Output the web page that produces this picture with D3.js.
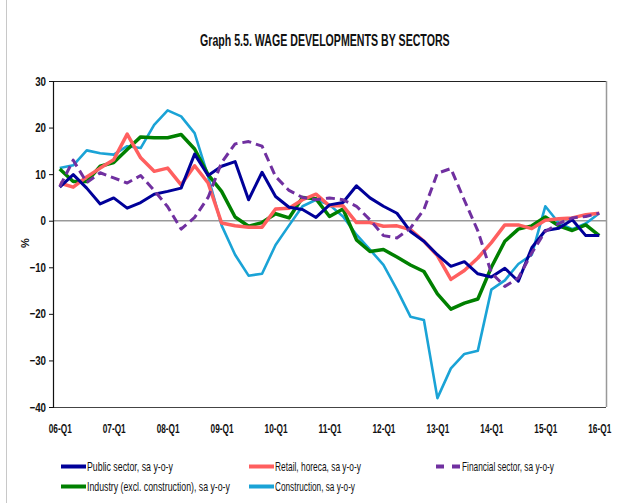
<!DOCTYPE html>
<html>
<head>
<meta charset="utf-8">
<script src="https://cdn.jsdelivr.net/npm/d3@7/dist/d3.min.js"></script>
<style>
  html, body { margin: 0; padding: 0; background: #fff; }
  svg { display: block; }
  text { font-family: "Liberation Sans", Arial, sans-serif; }
</style>
</head>
<body>
<svg id="chart" width="624" height="503"></svg>
<script>
const quarters = [
  "06-Q1","06-Q2","06-Q3","06-Q4","07-Q1","07-Q2","07-Q3","07-Q4",
  "08-Q1","08-Q2","08-Q3","08-Q4","09-Q1","09-Q2","09-Q3","09-Q4",
  "10-Q1","10-Q2","10-Q3","10-Q4","11-Q1","11-Q2","11-Q3","11-Q4",
  "12-Q1","12-Q2","12-Q3","12-Q4","13-Q1","13-Q2","13-Q3","13-Q4",
  "14-Q1","14-Q2","14-Q3","14-Q4","15-Q1","15-Q2","15-Q3","15-Q4","16-Q1"
];
const yTicks = [30, 20, 10, 0, -10, -20, -30, -40];

const publicSector = [7.2, 9.9, 7.0, 3.6, 4.9, 2.7, 3.9, 5.7, 6.3, 7.0, 14.3, 9.7, 11.7, 12.7, 4.5, 10.4, 5.2, 2.9, 2.4, 0.7, 3.4, 3.9, 7.5, 4.9, 3.1, 1.6, -2.3, -4.4, -7.3, -9.8, -8.8, -11.4, -12.1, -10.2, -13.0, -5.8, -2.1, -1.6, 0.2, -3.2, -3.2];
const retail = [8.1, 7.2, 9.4, 11.3, 13.1, 18.6, 13.5, 10.6, 11.3, 7.7, 11.8, 8.1, -0.5, -1.1, -1.4, -1.4, 2.5, 2.7, 4.5, 5.7, 3.2, 3.2, -0.4, -0.4, -1.2, -1.1, -1.9, -4.4, -7.5, -12.6, -10.7, -8.0, -4.7, -0.9, -0.9, -1.7, 0.1, 0.4, 0.6, 1.3, 1.6];
const financial = [7.3, 13.0, 8.2, 10.3, 9.2, 8.1, 9.7, 6.5, 3.0, -1.8, 0.7, 5.0, 12.5, 16.5, 17.0, 16.0, 9.5, 6.5, 5.0, 4.5, 4.9, 4.5, 3.1, 0.2, -3.2, -3.7, -1.6, 2.4, 10.2, 11.2, 4.4, -2.2, -11.2, -14.1, -12.3, -6.9, -2.3, -0.6, 0.6, 0.9, 1.6];
const industry = [11.1, 8.4, 8.4, 11.7, 12.5, 15.3, 18.0, 17.8, 17.8, 18.5, 15.4, 9.9, 6.3, 0.8, -1.2, -0.4, 1.5, 0.6, 5.0, 4.7, 0.9, 2.5, -4.1, -6.6, -6.2, -7.8, -9.5, -10.9, -15.7, -19.0, -17.7, -16.8, -10.0, -4.4, -1.8, -1.1, 0.8, -1.1, -2.1, -0.9, -3.2];
const construction = [11.3, 11.9, 15.1, 14.5, 14.2, 16.0, 15.6, 20.6, 23.7, 22.4, 18.8, 9.5, -1.0, -7.3, -11.8, -11.4, -5.2, -1.0, 3.1, 4.5, 3.4, 0.9, -3.0, -6.2, -9.5, -14.8, -20.6, -21.3, -38.1, -31.7, -28.6, -27.9, -14.8, -12.8, -9.3, -7.3, 3.1, -0.5, -1.8, -0.6, 1.6];

const seriesNames = ["Public sector, sa y-o-y", "Retail, horeca, sa y-o-y", "Financial sector, sa y-o-y", "Industry (excl. construction), sa y-o-y", "Construction, sa y-o-y"];

const series = [
  { name: seriesNames[0], values: publicSector, color: "#000099", width: 3, dash: null },
  { name: seriesNames[1], values: retail, color: "#FF5F5F", width: 3.5, dash: null },
  { name: seriesNames[2], values: financial, color: "#7030A0", width: 3, dash: "9,5" },
  { name: seriesNames[3], values: industry, color: "#008000", width: 3.5, dash: null },
  { name: seriesNames[4], values: construction, color: "#1AA3D6", width: 2.6, dash: null }
];
const drawOrder = [4, 3, 1, 0, 2];

const svg = d3.select("#chart");
const pLeft = 53, pRight = 606, pTop = 81, pBottom = 407;

const x = d3.scalePoint().domain(quarters).range([pLeft, pRight]).padding(0.5);
const y = d3.scaleLinear().domain([-40, 30]).range([pBottom, pTop]);

// place a text at (tx,ty) and squeeze it horizontally to a target width (condensed look)
function squeeze(textSel, tx, ty, target) {
  const node = textSel.node();
  const w = node.getComputedTextLength();
  const s = target / w;
  textSel.attr("x", 0).attr("transform", `translate(${tx},${ty}) scale(${s},1)`);
}

// outer left border line
svg.append("line").attr("x1", 6.5).attr("x2", 6.5).attr("y1", 0).attr("y2", 503)
  .attr("stroke", "#c8c8c8").attr("stroke-width", 1);

// title
const title = svg.append("text").attr("y", 0)
  .attr("font-size", 16.5).attr("font-weight", "bold").attr("fill", "#111")
  .text("Graph 5.5. WAGE DEVELOPMENTS BY SECTORS");
squeeze(title, 200, 45.5, 250);

// plot frame
svg.append("line").attr("x1", pLeft).attr("x2", pRight).attr("y1", pTop + 0.5).attr("y2", pTop + 0.5)
  .attr("stroke", "#222").attr("stroke-width", 1);
svg.append("line").attr("x1", pLeft).attr("x2", pRight).attr("y1", pBottom + 0.5).attr("y2", pBottom + 0.5)
  .attr("stroke", "#444").attr("stroke-width", 1.2);
svg.append("line").attr("x1", pRight + 0.5).attr("x2", pRight + 0.5).attr("y1", pTop).attr("y2", pBottom)
  .attr("stroke", "#999").attr("stroke-width", 1.5);

// zero line
svg.append("line").attr("x1", pLeft).attr("x2", pRight).attr("y1", y(0)).attr("y2", y(0))
  .attr("stroke", "#999").attr("stroke-width", 1.5);

// y axis
const yAxis = d3.axisLeft(y).tickValues(yTicks).tickSize(4).tickPadding(4).tickFormat(d3.format("d"));
const gy = svg.append("g").attr("transform", `translate(${pLeft},0)`).call(yAxis);
gy.select(".domain").attr("stroke", "#111").attr("stroke-width", 1.2);
gy.selectAll(".tick line").attr("stroke", "#111");
gy.selectAll(".tick text").attr("font-size", 12.5).attr("font-weight", "bold").attr("fill", "#111")
  .attr("font-family", '"Liberation Sans", Arial, sans-serif')
  .attr("x", 0).attr("transform", "translate(-7,0) scale(0.78,1)");

// y label
svg.append("text").attr("transform", "translate(29,243) rotate(-90)").attr("text-anchor", "middle")
  .attr("font-size", 11).attr("font-weight", "bold").attr("fill", "#111").text("%");

// x axis labels
const xAxis = d3.axisBottom(x).tickValues(quarters.filter(q => q.endsWith("Q1"))).tickSize(0).tickPadding(0);
const gx = svg.append("g").attr("transform", `translate(0,${pBottom + 17})`).call(xAxis);
gx.select(".domain").remove();
gx.selectAll(".tick text").attr("font-size", 12).attr("font-weight", "bold").attr("fill", "#111")
  .attr("font-family", '"Liberation Sans", Arial, sans-serif')
  .each(function () {
    const w = this.getComputedTextLength();
    d3.select(this).attr("transform", `scale(${23 / w},1)`);
  });

// lines
const line = d3.line().x((d, i) => x(quarters[i])).y(d => y(d));
drawOrder.forEach(k => {
  const s = series[k];
  svg.append("path").datum(s.values)
    .attr("d", line).attr("fill", "none")
    .attr("stroke", s.color).attr("stroke-width", s.width)
    .attr("stroke-linejoin", "round")
    .attr("stroke-dasharray", s.dash);
});

// legend
const legendPos = [
  { x: 61, y: 466.5 }, { x: 249, y: 466.5 }, { x: 436, y: 466.5 },
  { x: 61, y: 486.5 }, { x: 249, y: 486.5 }
];
const legendTextWidth = [86, 86, 92, 143, 80];
series.forEach((s, k) => {
  const p = legendPos[k];
  svg.append("line").attr("x1", p.x).attr("x2", p.x + 25).attr("y1", p.y).attr("y2", p.y)
    .attr("stroke", s.color).attr("stroke-width", 4)
    .attr("stroke-dasharray", s.dash ? "8,8" : null);
  const t = svg.append("text").attr("font-size", 12.5).attr("fill", "#111").text(s.name);
  squeeze(t, p.x + 26, p.y + 4.5, legendTextWidth[k]);
});
</script>
</body>
</html>
